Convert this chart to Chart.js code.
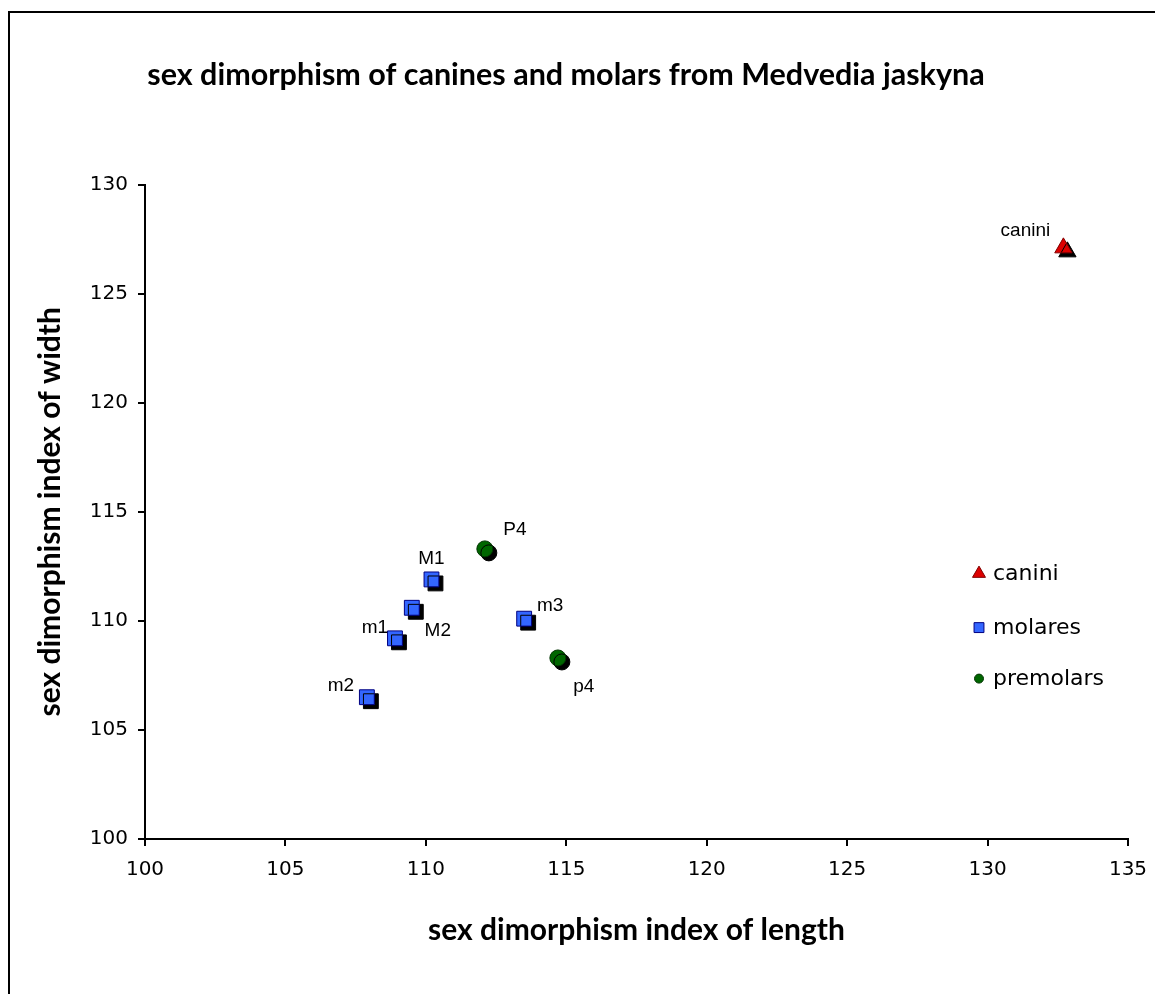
<!DOCTYPE html>
<html>
<head>
<meta charset="utf-8">
<title>sex dimorphism of canines and molars</title>
<script src="https://cdn.jsdelivr.net/npm/chart.js@4.4.1/dist/chart.umd.min.js"></script>
<style>
  body { margin: 0; background: #fff; }
  #wrap { position: relative; width: 1155px; height: 994px; overflow: hidden; }
  #frame { position: absolute; left: 8px; top: 11px; width: 1300px; height: 1200px;
           border-left: 2px solid #000; border-top: 2px solid #000; }
  #chart { position: absolute; left: 0; top: 0; }
</style>
</head>
<body>
<div id="wrap">
  <div id="frame"></div>
  <canvas id="chart" width="1155" height="994"></canvas>
</div>
<script>
// ============================================
// DATA
// ============================================
const caniniLabels = ['canini'];
const caniniLength = [132.7];
const caniniWidth  = [127.1];

const molarLabels = ['M1', 'M2', 'm1', 'm2', 'm3'];
const molarLength = [110.2, 109.5, 108.9, 107.9, 113.5];
const molarWidth  = [111.9, 110.6, 109.2, 106.5, 110.1];

const premolarLabels = ['P4', 'p4'];
const premolarLength = [112.1, 114.7];
const premolarWidth  = [113.3, 108.3];

const xTicks = [100, 105, 110, 115, 120, 125, 130, 135];
const yTicks = [100, 105, 110, 115, 120, 125, 130];

// label placement (pixel offsets from marker centre) - style only
const labelOffsets = {
  canini: [-38, -17], M1: [0, -21], M2: [26, 23], m1: [-20, -11],
  m2: [-26, -11], m3: [26, -13], P4: [30, -19], p4: [26, 29]
};

// ============================================
// HELPERS
// ============================================
function toPoints(xs, ys) {
  return xs.map((x, i) => ({ x, y: ys[i] }));
}

// black drop shadow under the markers (like the Excel original)
const shadowPlugin = {
  id: 'markerShadow',
  beforeDatasetsDraw(chart) {
    const c = chart.ctx;
    c.save();
    c.shadowColor = '#000';
    c.shadowOffsetX = 4;
    c.shadowOffsetY = 4;
    c.shadowBlur = 0;
  },
  afterDatasetsDraw(chart) {
    chart.ctx.restore();
  }
};

const pointLabelPlugin = {
  id: 'pointLabels',
  afterDatasetsDraw(chart) {
    const c = chart.ctx;
    c.save();
    c.font = '19px "Liberation Sans", Arial, sans-serif';
    c.fillStyle = '#000';
    c.textAlign = 'center';
    c.textBaseline = 'middle';
    chart.data.datasets.forEach((ds, di) => {
      const meta = chart.getDatasetMeta(di);
      meta.data.forEach((pt, i) => {
        const txt = ds.pointNames[i];
        const off = labelOffsets[txt] || [0, -18];
        c.fillText(txt, pt.x + off[0], pt.y + off[1]);
      });
    });
    c.restore();
  }
};

// legend drawn inside the plot area on the right
const legendPlugin = {
  id: 'insideLegend',
  afterDraw(chart) {
    const c = chart.ctx;
    const area = chart.chartArea;
    const mx = area.right - 149;
    const rows = [area.top + 389, area.top + 443, area.top + 494];
    const sizes = [7.5, 7, 4.5];
    c.save();
    c.font = '22px "DejaVu Sans", Verdana, sans-serif';
    c.textBaseline = 'middle';
    c.textAlign = 'left';
    chart.data.datasets.forEach((ds, i) => {
      c.fillStyle = ds.backgroundColor;
      c.strokeStyle = ds.borderColor;
      c.lineWidth = 1;
      Chart.helpers.drawPoint(c, { pointStyle: ds.pointStyle, radius: sizes[i], borderWidth: 1 }, mx, rows[i]);
      c.fillStyle = '#000';
      c.fillText(ds.label, mx + 14, rows[i] + 1);
    });
    c.restore();
  }
};

// ============================================
// CHART
// ============================================
const tickFont = { family: '"DejaVu Sans", Verdana, sans-serif', size: 20 };
const axisTitleFont = { family: 'Lato, "Open Sans", sans-serif', size: 30, weight: 'bold' };

new Chart(document.getElementById('chart'), {
  type: 'scatter',
  data: {
    datasets: [
      {
        label: 'canini', pointNames: caniniLabels,
        data: toPoints(caniniLength, caniniWidth),
        pointStyle: 'triangle', pointRadius: 10, pointHoverRadius: 10,
        backgroundColor: '#dd0000', borderColor: '#800000', borderWidth: 1
      },
      {
        label: 'molares', pointNames: molarLabels,
        data: toPoints(molarLength, molarWidth),
        pointStyle: 'rect', pointRadius: 10.5, pointHoverRadius: 10.5,
        backgroundColor: '#3366ff', borderColor: '#000080', borderWidth: 1
      },
      {
        label: 'premolars', pointNames: premolarLabels,
        data: toPoints(premolarLength, premolarWidth),
        pointStyle: 'circle', pointRadius: 8, pointHoverRadius: 8,
        backgroundColor: '#006600', borderColor: '#003300', borderWidth: 1
      }
    ]
  },
  options: {
    responsive: false,
    animation: false,
    events: [],
    layout: { padding: { left: 4, right: 27, top: 0, bottom: 36 } },
    plugins: {
      legend: { display: false },
      tooltip: { enabled: false },
      title: {
        display: true,
        text: 'sex dimorphism of canines and molars from Medvedia jaskyna',
        color: '#000',
        font: { family: 'Lato, "Open Sans", sans-serif', size: 30.5, weight: 'bold' },
        padding: { top: 57, bottom: 91 }
      }
    },
    scales: {
      x: {
        type: 'linear', min: 100, max: 135,
        afterBuildTicks: (s) => { s.ticks = xTicks.map(v => ({ value: v })); },
        afterFit: (s) => { s.height = 119; s.paddingLeft = 0; s.paddingRight = 0; },
        border: { display: true, color: '#000', width: 2 },
        grid: { drawOnChartArea: false, drawTicks: true, tickLength: 7, color: '#000', lineWidth: 2 },
        ticks: { color: '#000', font: tickFont, padding: 12, maxRotation: 0 },
        title: { display: true, text: 'sex dimorphism index of length', color: '#000',
                 font: axisTitleFont, padding: { top: 0, bottom: 10 } }
      },
      y: {
        type: 'linear', min: 100, max: 130,
        afterBuildTicks: (s) => { s.ticks = yTicks.map(v => ({ value: v })); },
        afterFit: (s) => { s.width = 141; },
        border: { display: true, color: '#000', width: 2 },
        grid: { drawOnChartArea: false, drawTicks: true, tickLength: 7, color: '#000', lineWidth: 2 },
        ticks: { color: '#000', font: tickFont, padding: 10 },
        title: { display: true, text: 'sex dimorphism index of width', color: '#000',
                 font: axisTitleFont, padding: { top: 28, bottom: 0 } }
      }
    }
  },
  plugins: [shadowPlugin, pointLabelPlugin, legendPlugin]
});
</script>
</body>
</html>
